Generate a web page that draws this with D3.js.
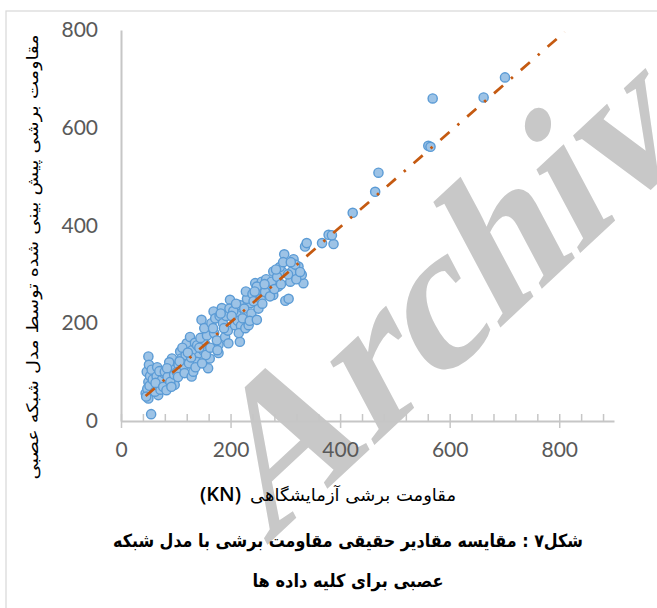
<!DOCTYPE html>
<html>
<head>
<meta charset="utf-8">
<script src="https://cdn.jsdelivr.net/npm/d3@7/dist/d3.min.js"></script>
<style>
  html, body { margin: 0; padding: 0; background: #ffffff; }
  svg { display: block; }
</style>
</head>
<body>
<svg id="chart" width="657" height="608"></svg>
<script>
// Laboratory shear strength (KN) vs. shear strength predicted by the neural network model
const labShear = [
  45, 47, 50, 51, 50, 50, 55, 48, 53, 46, 52, 56, 58,
  65, 68, 71, 62, 75, 78, 66, 72, 63, 77, 70,
  83, 80, 89, 93, 98, 85, 90, 95, 88, 97, 84, 92,
  105, 108, 120, 102, 110, 115, 104, 118, 112, 116, 107,
  126, 129, 132, 141, 138, 124, 130, 135, 128, 136, 122, 139,
  147, 153, 159, 162, 160, 145, 150, 155, 148, 157, 143, 152,
  169, 178, 178, 165, 170, 175, 163, 172, 168, 176, 180,
  184, 190, 196, 199, 186, 192, 195, 182, 188, 198,
  217, 217, 211, 208, 205, 213, 202, 219, 210, 215,
  227, 233, 236, 225, 230, 222, 238, 228, 235, 240,
  248, 251, 245, 251, 257, 242, 255, 248, 244, 258,
  269, 278, 263, 278, 287, 265, 272, 275, 262, 280,
  294, 298, 300, 306, 309, 290, 285, 296, 292, 283,
  315, 312, 324, 333, 330, 318, 305, 320, 327, 310, 336, 339,
  367, 379, 388, 385, 423, 464, 470, 561, 565, 569, 662, 701
];
const nnShear = [
  57, 101, 132, 115, 80, 46, 14, 66, 92, 50, 72, 105, 85,
  91, 53, 74, 60, 85, 98, 110, 64, 78, 70, 102,
  63, 101, 111, 128, 74, 90, 80, 105, 120, 95, 108, 70,
  115, 142, 159, 100, 128, 112, 90, 135, 150, 98, 122,
  172, 91, 101, 138, 121, 118, 145, 160, 130, 110, 140, 155,
  207, 159, 108, 128, 183, 170, 145, 135, 118, 175, 150, 190,
  224, 139, 156, 200, 180, 165, 150, 210, 190, 145, 215,
  231, 172, 159, 248, 200, 215, 185, 220, 190, 230,
  162, 237, 217, 196, 225, 205, 215, 195, 240, 180,
  190, 196, 241, 230, 250, 210, 220, 265, 205, 260,
  207, 230, 282, 268, 285, 245, 250, 275, 265, 240,
  278, 306, 264, 258, 275, 290, 255, 285, 280, 270,
  306, 341, 246, 250, 285, 315, 295, 325, 280, 310,
  331, 306, 316, 282, 299, 320, 300, 290, 305, 325, 357, 364,
  364, 381, 362, 380, 426, 469, 508, 563, 561, 660, 662, 703
];

// Linear trend line end points
const trendX = [45, 810];
const trendY = [51, 796];

const xTickValues = [0, 200, 400, 600, 800];
const yTickValues = [0, 200, 400, 600, 800];

const yTitle = "مقاومت برشی  پیش بینی شده توسط مدل شبکه عصبی";
const xTitle = "مقاومت برشی آزمایشگاهی";
const xUnit = "(KN)";
const captionLines = [
  "شکل۷ : مقایسه مقادیر حقیقی مقاومت برشی با مدل شبکه",
  "عصبی برای کلیه داده ها"
];
const watermark = "Archive";

const svg = d3.select("#chart");
const plot = { left: 121, right: 614, top: 30, bottom: 421 };

const x = d3.scaleLinear().domain([0, 900]).range([plot.left, plot.right]);
const y = d3.scaleLinear().domain([0, 800]).range([plot.bottom, plot.top]);

const axisColor = "#c6c6c6";
const labelColor = "#595959";
const digitFont = "Lato, 'Open Sans', sans-serif";
const persianFont = "'DejaVu Sans', sans-serif";

// outer chart frame
svg.append("rect")
  .attr("x", 6).attr("y", 11)
  .attr("width", 700).attr("height", 700)
  .attr("fill", "none")
  .attr("stroke", "#d9d9d9")
  .attr("stroke-width", 1.25);

// watermark, behind the chart (slanted serif)
svg.append("text")
  .attr("transform", "translate(266,546) rotate(-43) skewX(-15)")
  .style("font-family", "'Liberation Serif', 'Times New Roman', serif")
  .style("font-weight", "bold")
  .style("font-size", "198px")
  .attr("fill", "#c8c8c8")
  .text(watermark);

// y axis (line and labels only)
const gy = svg.append("g")
  .attr("transform", `translate(${plot.left},0)`)
  .call(d3.axisLeft(y).tickValues(yTickValues).tickSize(0).tickPadding(23).tickSizeOuter(0));
gy.select(".domain").attr("stroke", axisColor).attr("stroke-width", 2);
gy.selectAll("text")
  .attr("fill", labelColor)
  .style("font-family", digitFont)
  .style("font-size", "21px");

// x axis: minor ticks above, major ticks crossing, labels below
const gxMinor = svg.append("g")
  .attr("transform", `translate(0,${plot.bottom})`)
  .call(d3.axisTop(x).tickValues(d3.range(0, 900, 40)).tickSize(7).tickSizeOuter(0).tickFormat(""));
gxMinor.select(".domain").remove();
gxMinor.selectAll("line").attr("stroke", axisColor).attr("stroke-width", 1.5);

const gx = svg.append("g")
  .attr("transform", `translate(0,${plot.bottom})`)
  .call(d3.axisBottom(x).tickValues(xTickValues).tickSize(7).tickPadding(14).tickSizeOuter(0));
gx.select(".domain").attr("stroke", axisColor).attr("stroke-width", 2);
gx.selectAll("line").attr("stroke", axisColor).attr("stroke-width", 1.5);
gx.selectAll("text")
  .attr("fill", labelColor)
  .style("font-family", digitFont)
  .style("font-size", "21px");

// scatter markers
const points = labShear.map((v, i) => ({ lab: v, nn: nnShear[i] }));
svg.append("g")
  .selectAll("circle")
  .data(points)
  .join("circle")
  .attr("cx", d => x(d.lab))
  .attr("cy", d => y(d.nn))
  .attr("r", 4.6)
  .attr("fill", "#9dc3e6")
  .attr("stroke", "#5b9bd5")
  .attr("stroke-width", 1.4);

// trend line (long dash - dot)
svg.append("path")
  .datum(trendX.map((v, i) => [v, trendY[i]]))
  .attr("d", d3.line().x(d => x(d[0])).y(d => y(d[1])))
  .attr("fill", "none")
  .attr("stroke", "#c55a11")
  .attr("stroke-width", 2.75)
  .attr("stroke-dasharray", "12,10.5,2.5,10.5");

// axis titles
svg.append("text")
  .attr("transform", "translate(32,257) rotate(-90)")
  .attr("text-anchor", "middle")
  .attr("dominant-baseline", "central")
  .attr("textLength", 445)
  .attr("lengthAdjust", "spacingAndGlyphs")
  .style("font-family", persianFont)
  .style("font-size", "16px")
  .attr("fill", "#000")
  .text(yTitle);

svg.append("text")
  .attr("x", 456).attr("y", 501)
  .attr("text-anchor", "end")
  .attr("textLength", 206)
  .attr("lengthAdjust", "spacingAndGlyphs")
  .style("font-family", persianFont)
  .style("font-size", "17px")
  .attr("fill", "#000")
  .text(xTitle);

svg.append("text")
  .attr("x", 241).attr("y", 501)
  .attr("text-anchor", "end")
  .style("font-family", "'Open Sans', Lato, sans-serif")
  .style("font-weight", "600")
  .style("font-size", "20px")
  .attr("fill", "#000")
  .text(xUnit);

// figure caption
const captionWidths = [470, 191];
const captionY = [547, 587];
captionLines.forEach((line, i) => {
  svg.append("text")
    .attr("x", 348).attr("y", captionY[i])
    .attr("text-anchor", "middle")
    .attr("textLength", captionWidths[i])
    .attr("lengthAdjust", "spacingAndGlyphs")
    .style("font-family", persianFont)
    .style("font-weight", "bold")
    .style("font-size", "18px")
    .attr("fill", "#000")
    .text(line);
});
</script>
</body>
</html>
